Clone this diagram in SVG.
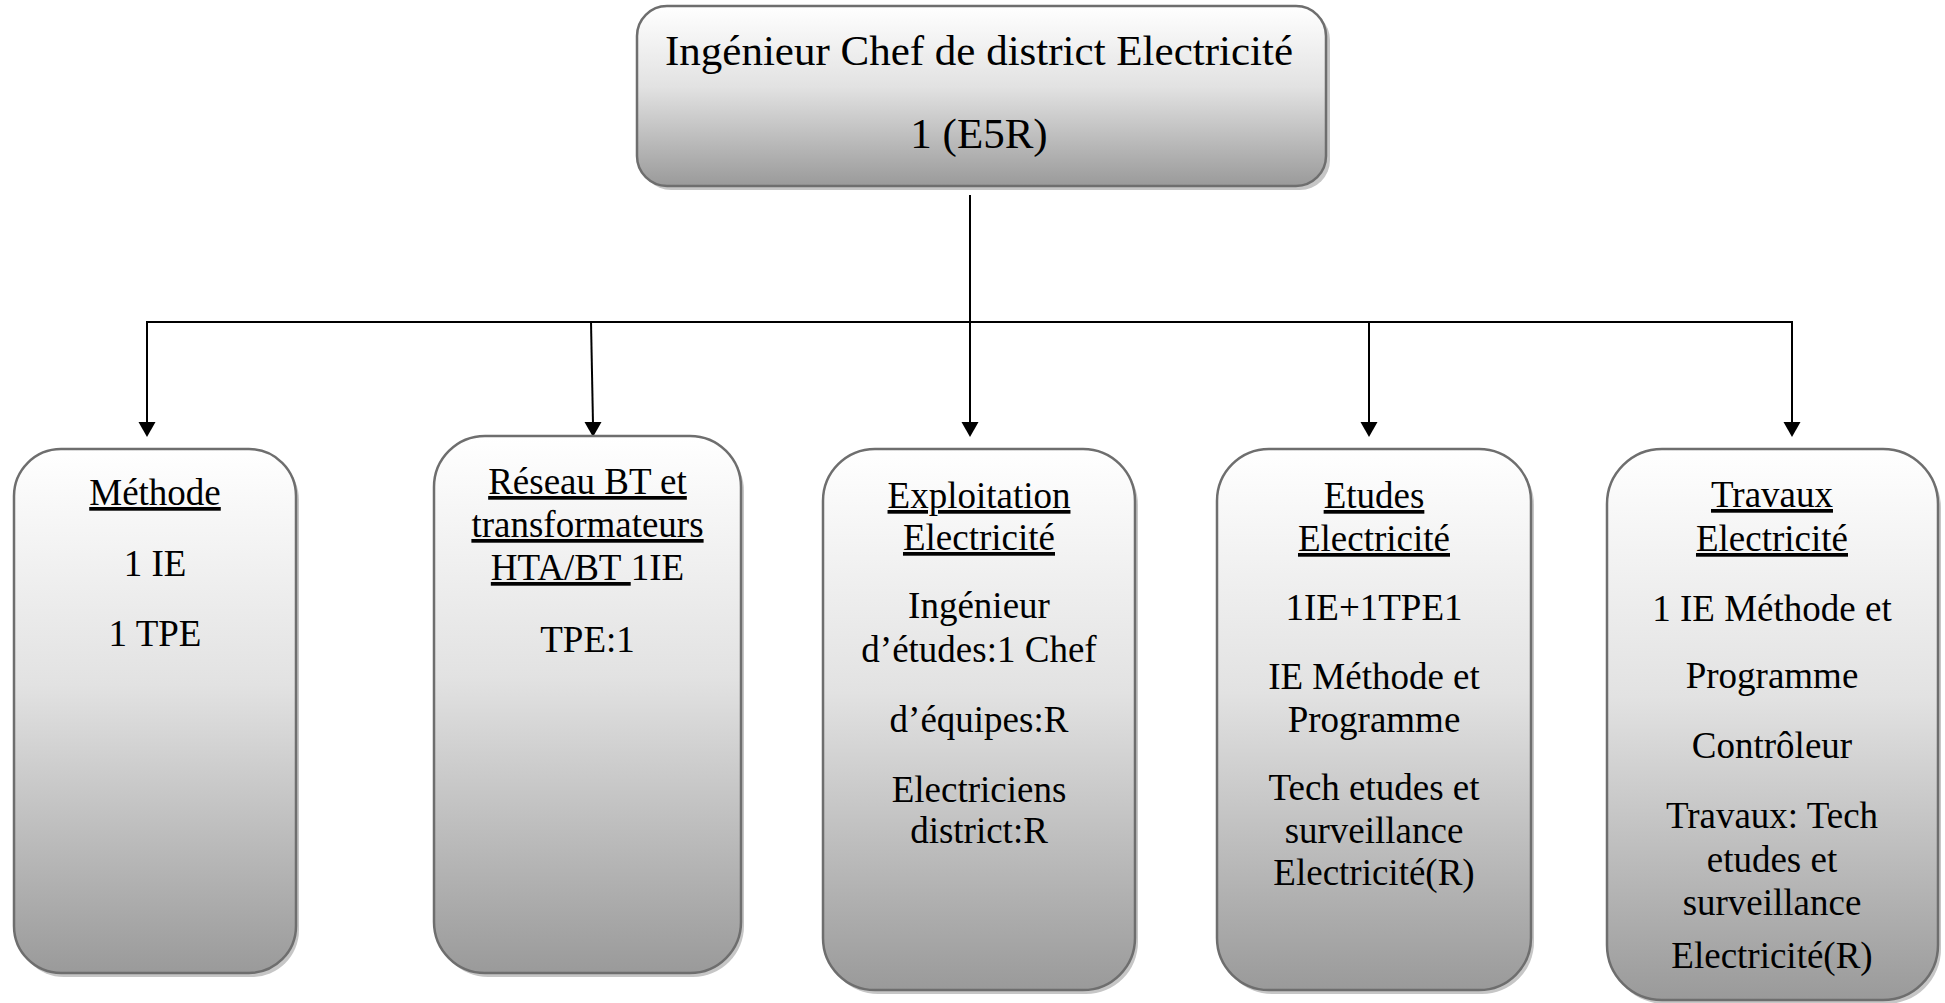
<svg xmlns="http://www.w3.org/2000/svg" width="1945" height="1003" viewBox="0 0 1945 1003">
<style>
  .box { stroke: #6e6e6e; stroke-width: 2.5; fill: url(#g); }
  .shadow { fill: #c6c6c6; }
  .t { font-family: "Liberation Serif", "Times New Roman", serif; font-size: 37px; fill: #000; text-anchor: middle; }
  .top { font-size: 43px; }
  .u { text-decoration: underline; }
  .conn { stroke: #000; stroke-width: 2; fill: none; }
</style>
<defs>
  <linearGradient id="g" x1="0" y1="0" x2="0" y2="1">
    <stop offset="0" stop-color="#ffffff"/>
    <stop offset="0.45" stop-color="#e2e2e2"/>
    <stop offset="1" stop-color="#9a9a9a"/>
  </linearGradient>
  <path id="ah" d="M-8.5,-15 L8.5,-15 L0,0 Z" fill="#000"/>
</defs>
<rect width="1945" height="1003" fill="#fff"/>

<g id="connectors">
  <line class="conn" x1="970" y1="195" x2="970" y2="322"/>
  <line class="conn" x1="146" y1="322" x2="1793" y2="322"/>
  <line class="conn" x1="147" y1="322" x2="147" y2="424"/>
  <line class="conn" x1="591" y1="322" x2="593" y2="424"/>
  <line class="conn" x1="970" y1="322" x2="970" y2="424"/>
  <line class="conn" x1="1369" y1="322" x2="1369" y2="424"/>
  <line class="conn" x1="1792" y1="322" x2="1792" y2="424"/>
  <use href="#ah" x="147" y="437"/>
  <use href="#ah" x="593" y="437"/>
  <use href="#ah" x="970" y="437"/>
  <use href="#ah" x="1369" y="437"/>
  <use href="#ah" x="1792" y="437"/>
</g>

<g id="node-top">
  <rect class="shadow" x="641" y="10" width="689" height="180" rx="30"/>
  <rect class="box" x="637" y="6" width="689" height="180" rx="30"/>
  <text class="t top" x="979" y="65">Ingénieur Chef de district Electricité</text>
  <text class="t top" x="979" y="148">1 (E5R)</text>
</g>

<g id="node-methode">
  <rect class="shadow" x="17" y="453" width="282" height="524" rx="47"/>
  <rect class="box" x="14" y="449" width="282" height="524" rx="47"/>
  <text class="t u" x="155" y="505">Méthode</text>
  <text class="t" x="155" y="576">1 IE</text>
  <text class="t" x="155" y="646">1 TPE</text>
</g>

<g id="node-reseau">
  <rect class="shadow" x="437" y="440" width="307" height="537" rx="51"/>
  <rect class="box" x="434" y="436" width="307" height="537" rx="51"/>
  <text class="t u" x="587.5" y="494">Réseau BT et</text>
  <text class="t u" x="587.5" y="537">transformateurs</text>
  <text class="t" x="587.5" y="580"><tspan class="u">HTA/BT&#160;</tspan>1IE</text>
  <text class="t" x="587.5" y="652">TPE:1</text>
</g>

<g id="node-exploitation">
  <rect class="shadow" x="826" y="453" width="312" height="541" rx="52"/>
  <rect class="box" x="823" y="449" width="312" height="541" rx="52"/>
  <text class="t u" x="979" y="508">Exploitation</text>
  <text class="t u" x="979" y="550">Electricité</text>
  <text class="t" x="979" y="618">Ingénieur</text>
  <text class="t" x="979" y="662">d’études:1 Chef</text>
  <text class="t" x="979" y="732">d’équipes:R</text>
  <text class="t" x="979" y="802">Electriciens</text>
  <text class="t" x="979" y="843">district:R</text>
</g>

<g id="node-etudes">
  <rect class="shadow" x="1220" y="453" width="314" height="541" rx="52"/>
  <rect class="box" x="1217" y="449" width="314" height="541" rx="52"/>
  <text class="t u" x="1374" y="508">Etudes</text>
  <text class="t u" x="1374" y="551">Electricité</text>
  <text class="t" x="1374" y="620">1IE+1TPE1</text>
  <text class="t" x="1374" y="689">IE Méthode et</text>
  <text class="t" x="1374" y="732">Programme</text>
  <text class="t" x="1374" y="800">Tech etudes et</text>
  <text class="t" x="1374" y="843">surveillance</text>
  <text class="t" x="1374" y="885">Electricité(R)</text>
</g>

<g id="node-travaux">
  <rect class="shadow" x="1610" y="453" width="331" height="551" rx="55"/>
  <rect class="box" x="1607" y="449" width="331" height="551" rx="55"/>
  <text class="t u" x="1772" y="507">Travaux</text>
  <text class="t u" x="1772" y="551">Electricité</text>
  <text class="t" x="1772" y="621">1 IE Méthode et</text>
  <text class="t" x="1772" y="688">Programme</text>
  <text class="t" x="1772" y="758">Contrôleur</text>
  <text class="t" x="1772" y="828">Travaux: Tech</text>
  <text class="t" x="1772" y="872">etudes et</text>
  <text class="t" x="1772" y="915">surveillance</text>
  <text class="t" x="1772" y="968">Electricité(R)</text>
</g>
</svg>
